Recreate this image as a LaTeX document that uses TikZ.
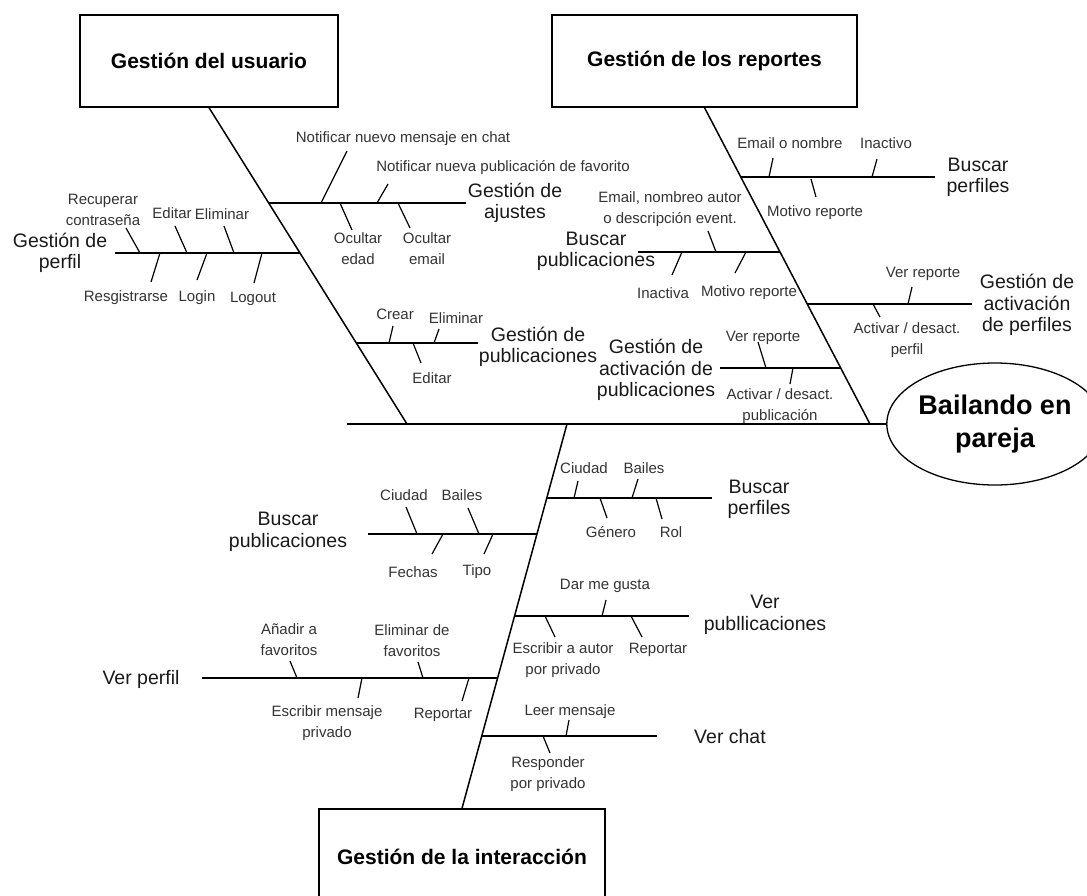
\documentclass[tikz,border=0pt]{standalone}
\usepackage{fontspec}
\setmainfont{Liberation Sans}
\usetikzlibrary{shapes.geometric}
\begin{document}
\begin{tikzpicture}[x=1pt,y=-1pt,
  bone/.style={line width=1.5pt},
  branch/.style={line width=1.4pt},
  twig/.style={line width=1.2pt},
  lab/.style={font=\fontsize{15}{21}\selectfont, align=center, inner sep=0pt, text=black!80},
  cat/.style={font=\fontsize{19.5}{21.5}\selectfont, align=center, inner sep=0pt, text=black!90},
  box/.style={draw, line width=1.3pt, inner sep=0pt, font=\bfseries\fontsize{21}{25}\selectfont}]
\useasboundingbox (0,0) rectangle (1087,895);

% main boxes
\node[box, minimum width=258pt, minimum height=92pt] (usr) at (209,61) {Gestión del usuario};
\node[box, minimum width=305pt, minimum height=92pt] (rep) at (704.5,61) {Gestión de los reportes};
\node[box, minimum width=286pt, minimum height=96pt] (int) at (462,857) {Gestión de la interacción};
\node[draw, ellipse, line width=1.3pt, minimum width=206pt, minimum height=122pt, inner sep=0pt,
      align=center, font=\bfseries\fontsize{27}{33}\selectfont] (goal) at (995,424) {Bailando en\\pareja};

% spine and bones
\coordinate (tail) at (347,424);
\coordinate (j1) at (407,424);
\coordinate (j2) at (870,424);
\coordinate (j3) at (567,424);
\draw[bone] (tail) -- (goal.west);
\draw[bone] (usr.south) -- (j1);
\draw[bone] (rep.south) -- (j2);
\draw[bone] (j3) -- (int.north);

% ---------- upper-left bone ----------
% Gestion de perfil
\coordinate (a1s) at (115,253); \coordinate (a1e) at (300.2,253);
\draw[branch] (a1s) -- (a1e);
\node[cat] (a1) at (60,253) {Gestión de\\perfil};
\draw[twig] (126,228) -- (140,253);
\node[lab] (a1t1) at (103,209.5) {Recuperar\\contraseña};
\draw[twig] (175,226) -- (187,253);
\node[lab] (a1t2) at (172,213) {Editar};
\draw[twig] (224,226) -- (234,253);
\node[lab] (a1t3) at (222,214) {Eliminar};
\draw[twig] (160,253) -- (151,282);
\node[lab] (a1b1) at (126,298) {Resgistrarse};
\draw[twig] (207,253) -- (197,280);
\node[lab] (a1b2) at (197,298) {Login};
\draw[twig] (262,253) -- (254,283);
\node[lab] (a1b3) at (253,299) {Logout};

% Gestion de ajustes
\coordinate (a2s) at (269,203); \coordinate (a2e) at (466,203);
\draw[branch] (a2s) -- (a2e);
\node[cat] (a2) at (515,203) {Gestión de\\ajustes};
\draw[twig] (347,151) -- (321,203);
\node[lab] (a2t1) at (403,139) {Notificar nuevo mensaje en chat};
\draw[twig] (388,184) -- (377,203);
\node[lab] (a2t2) at (503,168) {Notificar nueva publicación de favorito};
\draw[twig] (340,203) -- (352,230);
\node[lab] (a2b1) at (358,249) {Ocultar\\edad};
\draw[twig] (398,203) -- (410,228);
\node[lab] (a2b2) at (427,249) {Ocultar\\email};

% Gestion de publicaciones
\coordinate (a3s) at (356.4,343); \coordinate (a3e) at (478,343);
\draw[branch] (a3s) -- (a3e);
\node[cat] (a3) at (538,347) {Gestión de\\publicaciones};
\draw[twig] (393,326) -- (389,343);
\node[lab] (a3t1) at (395,314) {Crear};
\draw[twig] (439,329) -- (434,343);
\node[lab] (a3t2) at (456,318) {Eliminar};
\draw[twig] (413,343) -- (421,363);
\node[lab] (a3b1) at (432,378) {Editar};

% ---------- upper-right bone ----------
% Buscar perfiles
\coordinate (b1s) at (741,177); \coordinate (b1e) at (935,177);
\draw[branch] (b1s) -- (b1e);
\node[cat] (b1) at (978,177.5) {Buscar\\perfiles};
\draw[twig] (773,158) -- (769,177);
\node[lab] (b1t1) at (790,143) {Email o nombre};
\draw[twig] (877,159) -- (872,177);
\node[lab] (b1t2) at (886,143) {Inactivo};
\draw[twig] (811,179) -- (816,197);
\node[lab] (b1b1) at (815,213) {Motivo reporte};

% Buscar publicaciones
\coordinate (b2s) at (638,252); \coordinate (b2e) at (780,252);
\draw[branch] (b2s) -- (b2e);
\node[cat] (b2) at (596,251.5) {Buscar\\publicaciones};
\draw[twig] (708,231) -- (716,252);
\node[lab] (b2t1) at (670,209.5) {Email, nombreo autor\\o descripción event.};
\draw[twig] (682,252) -- (672,275);
\node[lab] (b2b1) at (663,293) {Inactiva};
\draw[twig] (746,252) -- (735,273);
\node[lab] (b2b2) at (749,293) {Motivo reporte};

% Gestion de activacion de perfiles
\coordinate (b3s) at (807.4,304); \coordinate (b3e) at (972,304);
\draw[branch] (b3s) -- (b3e);
\node[cat] (b3) at (1027,305) {Gestión de\\activación\\de perfiles};
\draw[twig] (912,287) -- (908,304);
\node[lab] (b3t1) at (923,274) {Ver reporte};
\draw[twig] (873,304) -- (880,317);
\node[lab] (b3b1) at (907,340.5) {Activar / desact.\\perfil};

% Gestion de activacion de publicaciones
\coordinate (b4s) at (720,368); \coordinate (b4e) at (840.8,368);
\draw[branch] (b4s) -- (b4e);
\node[cat] (b4) at (656,370) {Gestión de\\activación de\\publicaciones};
\draw[twig] (758,342) -- (766,368);
\node[lab] (b4t1) at (763,338) {Ver reporte};
\draw[twig] (793,368) -- (790,384);
\node[lab] (b4b1) at (780,406.5) {Activar / desact.\\publicación};

% ---------- lower bone ----------
% Buscar perfiles
\coordinate (c1s) at (546.8,498); \coordinate (c1e) at (712,498);
\draw[branch] (c1s) -- (c1e);
\node[cat] (c1) at (759,499.5) {Buscar\\perfiles};
\draw[twig] (578,481) -- (574,498);
\node[lab] (c1t1) at (584,468) {Ciudad};
\draw[twig] (638,479) -- (632,498);
\node[lab] (c1t2) at (644,468) {Bailes};
\draw[twig] (600,498) -- (607,518);
\node[lab] (c1b1) at (611,532) {Género};
\draw[twig] (656,498) -- (662,519);
\node[lab] (c1b2) at (671,532) {Rol};

% Buscar publicaciones
\coordinate (c2s) at (368,534); \coordinate (c2e) at (537,534);
\draw[branch] (c2s) -- (c2e);
\node[cat] (c2) at (288,532) {Buscar\\publicaciones};
\draw[twig] (406,507) -- (417,534);
\node[lab] (c2t1) at (404,495) {Ciudad};
\draw[twig] (468,508) -- (479,534);
\node[lab] (c2t2) at (462,495) {Bailes};
\draw[twig] (443,534) -- (432,554);
\node[lab] (c2b1) at (413,572) {Fechas};
\draw[twig] (493,534) -- (484,554);
\node[lab] (c2b2) at (477,572) {Tipo};

% Ver publlicaciones
\coordinate (c3s) at (514.6,616); \coordinate (c3e) at (689,616);
\draw[branch] (c3s) -- (c3e);
\node[cat] (c3) at (765,615) {Ver\\publlicaciones};
\draw[twig] (606,600) -- (602,616);
\node[lab] (c3t1) at (605,586) {Dar me gusta};
\draw[twig] (545,616) -- (555,637);
\node[lab] (c3b1) at (563,660.5) {Escribir a autor\\por privado};
\draw[twig] (631,616) -- (642,637);
\node[lab] (c3b2) at (658,650) {Reportar};

% Ver perfil
\coordinate (c4s) at (202,678); \coordinate (c4e) at (497.7,678);
\draw[branch] (c4s) -- (c4e);
\node[cat] (c4) at (141,679) {Ver perfil};
\draw[twig] (290,661) -- (297,678);
\node[lab] (c4t1) at (289,640) {Añadir a\\favoritos};
\draw[twig] (418,662) -- (423,678);
\node[lab] (c4t2) at (412,640.5) {Eliminar de\\favoritos};
\draw[twig] (362,678) -- (358,698);
\node[lab] (c4b1) at (327,723) {Escribir mensaje\\privado};
\draw[twig] (469,678) -- (462,701);
\node[lab] (c4b2) at (443,715) {Reportar};

% Ver chat
\coordinate (c5s) at (481.9,736); \coordinate (c5e) at (657,736);
\draw[branch] (c5s) -- (c5e);
\node[cat] (c5) at (730,737) {Ver chat};
\draw[twig] (569,720) -- (566,736);
\node[lab] (c5t1) at (570,712) {Leer mensaje};
\draw[twig] (543,736) -- (550,753);
\node[lab] (c5b1) at (548,774) {Responder\\por privado};
\end{tikzpicture}
\end{document}
